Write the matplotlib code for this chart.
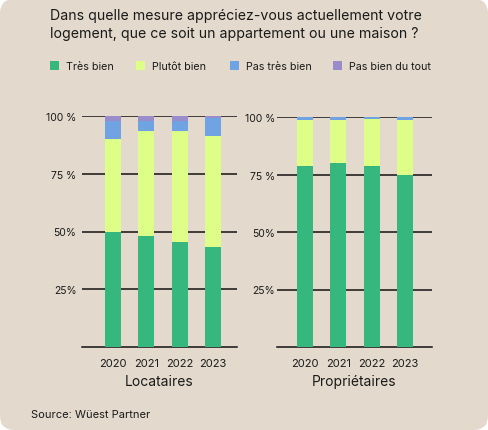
import matplotlib
matplotlib.use('Agg')
import matplotlib.pyplot as plt
from matplotlib.patches import FancyBboxPatch, Rectangle
import numpy as np

plt.rcParams['font.family'] = ['Inter', 'DejaVu Sans']

years = ['2020', '2021', '2022', '2023']
categories = ['Très bien', 'Plutôt bien', 'Pas très bien', 'Pas bien du tout']
colors = ['#35b77e', '#ddff87', '#70a3e2', '#9a8bcb']

# share of answers in %, one list per category
loc_tres_bien = [50, 48, 45.5, 43.5]
loc_plutot = [40, 45.5, 48, 48]
loc_pas_tres = [8, 4.5, 4.5, 7.5]
loc_pas_du_tout = [2, 2, 2, 1]

prop_tres_bien = [78.5, 80, 78.5, 75]
prop_plutot = [20, 18.5, 20.5, 23.5]
prop_pas_tres = [1.5, 1.5, 1, 1.5]
prop_pas_du_tout = [0, 0, 0, 0]

yticks = [25, 50, 75, 100]
ytick_labels = ['25%', '50%', '75 %', '100 %']

title_lines = ['Dans quelle mesure appréciez-vous actuellement votre',
               'logement, que ce soit un appartement ou une maison ?']

bg = '#e3dacd'
W, H = 488, 431
fig = plt.figure(figsize=(W / 100, H / 100), dpi=100, facecolor='white')
fig.patches.append(FancyBboxPatch((0, 0), 1, 1, boxstyle='round,pad=0,rounding_size=0.03',
                                  transform=fig.transFigure, facecolor=bg, edgecolor='none',
                                  mutation_aspect=W / H, zorder=-10))

def px(x0, y0, x1, y1):
    # pixel box -> figure fraction [left, bottom, width, height]
    return [x0 / W, 1 - y1 / H, (x1 - x0) / W, (y1 - y0) / H]

for yy, line in zip([16, 34], title_lines):
    fig.text(50 / W, 1 - yy / H, line, fontsize=10.2, va='center', ha='left', color='#1a1a1a')

# legend
leg_x = [50, 136, 230, 333]
for xx, lab, c in zip(leg_x, categories, colors):
    fig.patches.append(Rectangle((xx / W, 1 - 71 / H), 9 / W, 9 / H, transform=fig.transFigure,
                                 facecolor=c, edgecolor='none'))
    fig.text((xx + 16) / W, 1 - 66.5 / H, lab, fontsize=7.7, va='center', ha='left', color='#1a1a1a')

def panel(box, series, title, xlim, pad):
    ax = fig.add_axes(px(*box))
    ax.set_facecolor('none')
    ax.set_axisbelow(True)
    x = np.arange(len(years))
    bottom = np.zeros(len(years))
    for vals, c in zip(series, colors):
        ax.bar(x, vals, width=0.48, bottom=bottom, color=c, zorder=3)
        bottom += np.array(vals)
    ax.set_ylim(0, 100)
    ax.set_xlim(*xlim)
    ax.set_yticks(yticks)
    ax.set_yticklabels(ytick_labels)
    ax.set_xticks(x)
    ax.set_xticklabels(years)
    ax.yaxis.grid(True, color='#111111', linewidth=1.1)
    for s in ['left', 'right', 'top']:
        ax.spines[s].set_visible(False)
    ax.spines['bottom'].set_color('#111111')
    ax.spines['bottom'].set_linewidth(1.1)
    ax.spines['bottom'].set_zorder(1)
    ax.tick_params(axis='both', length=0, colors='#1a1a1a')
    ax.tick_params(axis='y', pad=pad, labelsize=7.5)
    ax.tick_params(axis='x', pad=8, labelsize=8)
    ax.set_xlabel(title, fontsize=10, color='#1a1a1a', labelpad=4)
    return ax

panel((82, 117, 237, 348), [loc_tres_bien, loc_plutot, loc_pas_tres, loc_pas_du_tout],
      'Locataires', (-0.93, 3.72), 4)
panel((277, 118, 432, 348), [prop_tres_bien, prop_plutot, prop_pas_tres, prop_pas_du_tout],
      'Propriétaires', (-0.84, 3.81), 1.5)

fig.text(31 / W, 1 - 415 / H, 'Source: Wüest Partner', fontsize=8, va='center', ha='left',
         color='#1a1a1a')

fig.savefig('out.png', dpi=100, facecolor='white')
